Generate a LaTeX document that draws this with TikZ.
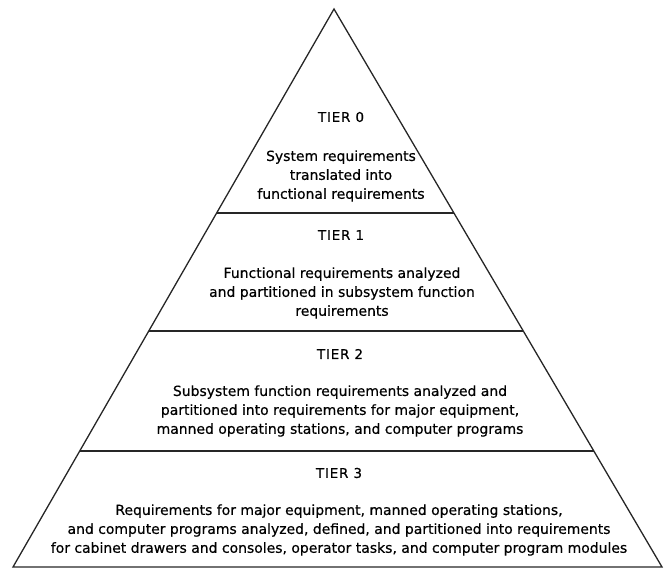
\documentclass[tikz,border=0pt]{standalone}
\usepackage{fontspec}
\setmainfont[FakeBold=0.5]{DejaVu Sans}
\begin{document}
\begin{tikzpicture}[x=1bp,y=-1bp,
  edge/.style={line width=1.3bp, draw=black!85},
  tier/.style={font=\fontsize{13.5}{15}\selectfont\addfontfeatures{LetterSpace=6}, inner sep=0pt},
  body/.style={font=\fontsize{14}{19}\selectfont, align=center, inner sep=0pt}]
\useasboundingbox (0,0) rectangle (664,569);
\coordinate (apex) at (334,9);
\coordinate (bl) at (13,567);
\coordinate (br) at (662,567);
\draw[edge, line join=miter] (apex) -- (bl) -- (br) -- cycle;
% dividers
\path (apex) -- (bl) coordinate[pos=0.3656] (l1) coordinate[pos=0.5771] (l2) coordinate[pos=0.7921] (l3);
\path (apex) -- (br) coordinate[pos=0.3656] (r1) coordinate[pos=0.5771] (r2) coordinate[pos=0.7921] (r3);
\draw[edge] (l1) -- (r1);
\draw[edge] (l2) -- (r2);
\draw[edge] (l3) -- (r3);
% texts
\node[tier] (t0) at (341,117) {TIER 0};
\node[body] (b0) at (341,176) {System requirements\\translated into\\functional requirements};
\node[tier] (t1) at (341,235) {TIER 1};
\node[body] (b1) at (342,293) {Functional requirements analyzed\\and partitioned in subsystem function\\requirements};
\node[tier] (t2) at (340,354) {TIER 2};
\node[body] (b2) at (340,411) {Subsystem function requirements analyzed and\\partitioned into requirements for major equipment,\\manned operating stations, and computer programs};
\node[tier] (t3) at (339,473) {TIER 3};
\node[body] (b3) at (339,530) {Requirements for major equipment, manned operating stations,\\and computer programs analyzed, defined, and partitioned into requirements\\for cabinet drawers and consoles, operator tasks, and computer program modules};
\end{tikzpicture}
\end{document}
